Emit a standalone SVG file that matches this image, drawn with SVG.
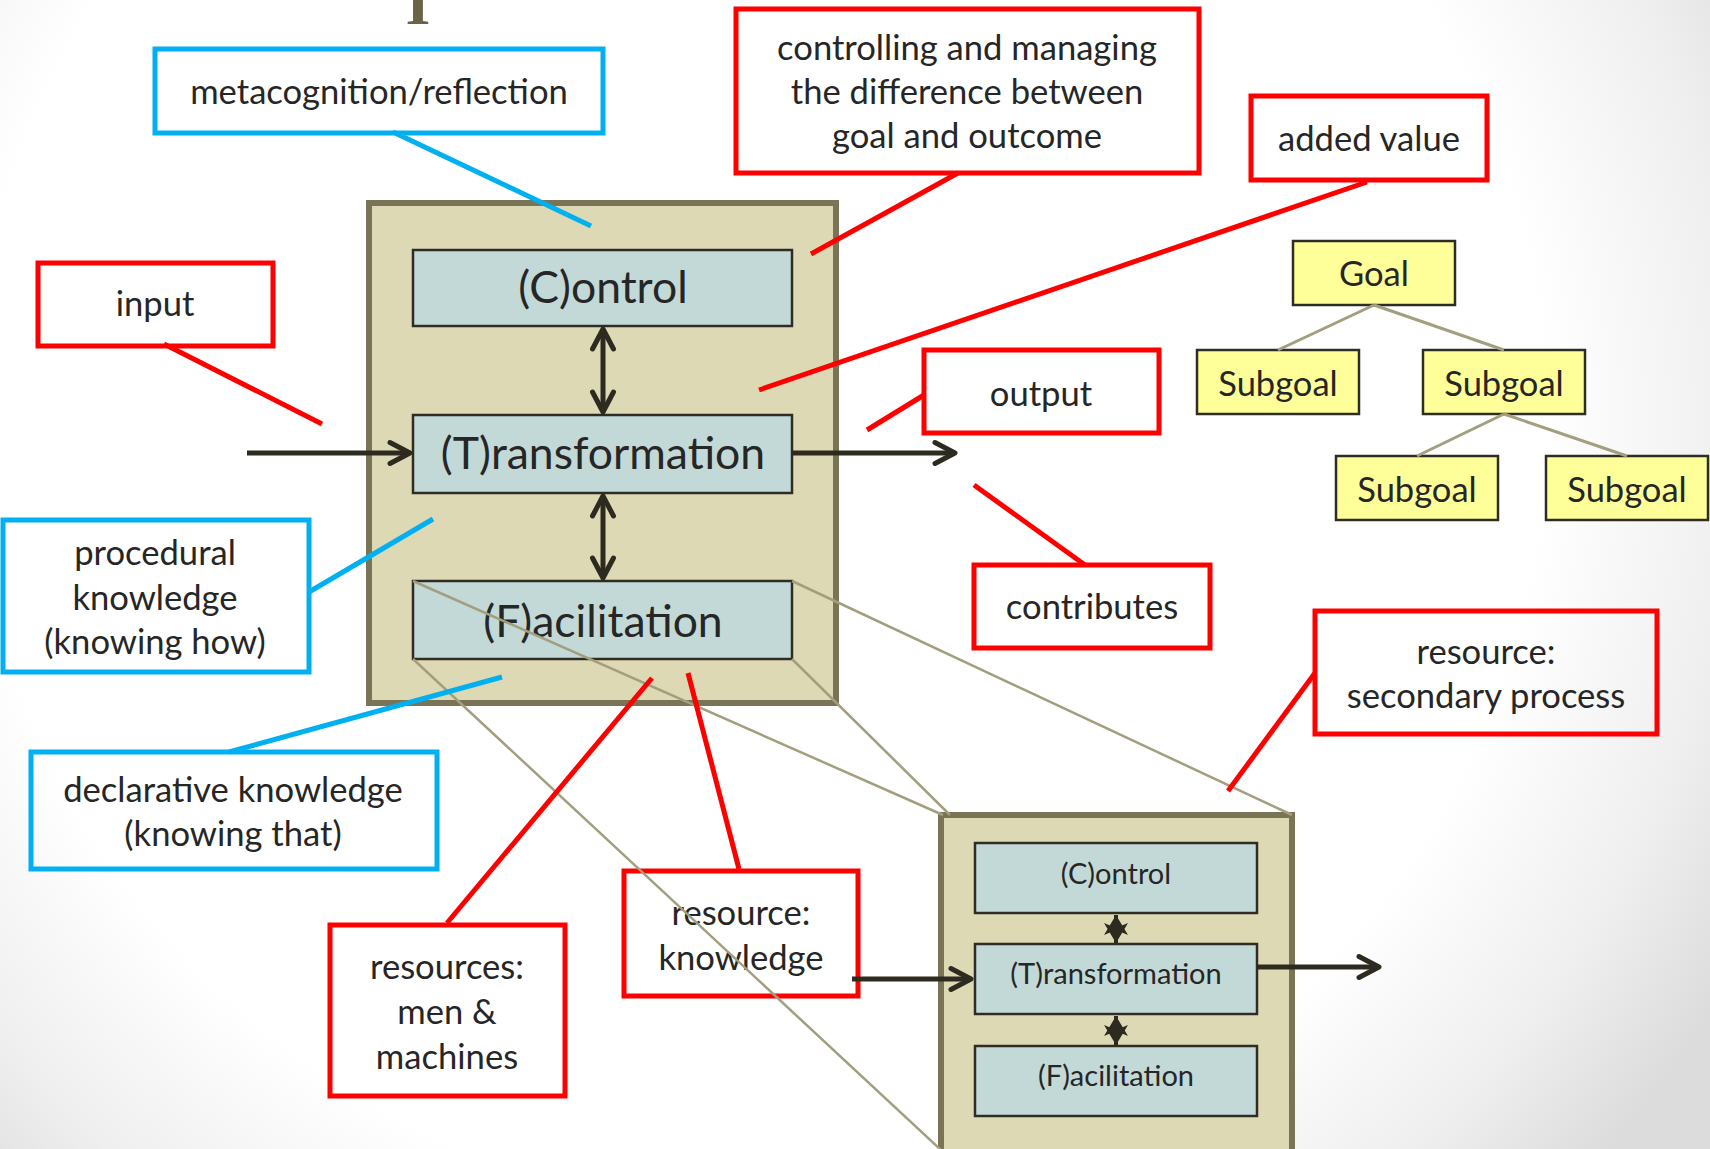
<svg xmlns="http://www.w3.org/2000/svg" width="1710" height="1149" viewBox="0 0 1710 1149">
<defs>
<radialGradient id="bg" gradientUnits="userSpaceOnUse" cx="760" cy="420" r="1120">
<stop offset="0" stop-color="#ffffff"/>
<stop offset="0.7" stop-color="#ffffff"/>
<stop offset="0.87" stop-color="#efefef"/>
<stop offset="1" stop-color="#dcdcdc"/>
</radialGradient>
<marker id="chev" markerUnits="userSpaceOnUse" viewBox="-26 -16 30 32" markerWidth="30" markerHeight="32" refX="0" refY="0" orient="auto-start-reverse">
<path d="M-20,-10.5 L0,0 L-20,10.5" fill="none" stroke="#2d2a20" stroke-width="5" stroke-linecap="round" stroke-linejoin="round"/>
</marker>
<marker id="tri" markerUnits="userSpaceOnUse" viewBox="-22 -14 24 28" markerWidth="24" markerHeight="28" refX="0" refY="0" orient="auto-start-reverse">
<path d="M-20,-12 L0,0 L-20,12 L-15,0 Z" fill="#2d2a20"/>
</marker>
<style>
.t { font-family: Lato, "Open Sans", "Liberation Sans", sans-serif; fill: #262626; text-anchor: middle; }
.lbl { font-size: 34.6px; }
.big { font-size: 44.5px; }
.sm { font-size: 29px; }
.gl { font-size: 34.5px; }
.red { fill: none; stroke: #ff0000; stroke-width: 5; }
.blue { fill: none; stroke: #00b0f0; stroke-width: 5; }
.outer { fill: #ded9b5; stroke: #7a7456; stroke-width: 6; }
.inner { fill: #c3d9d7; stroke: #2f2c24; stroke-width: 2.5; }
.goal { fill: #ffff99; stroke: #2f2c24; stroke-width: 2.5; }
.zl { stroke: #a29e7e; stroke-width: 2.5; fill: none; }
.tree { stroke: #a29e7e; stroke-width: 3; fill: none; }
.cr { stroke: #ff0000; stroke-width: 5; fill: none; }
.cb { stroke: #00b0f0; stroke-width: 5; fill: none; }
.ar { stroke: #2d2a20; stroke-width: 5; fill: none; marker-end: url(#chev); }
.ar2 { stroke: #2d2a20; stroke-width: 5; fill: none; marker-end: url(#chev); marker-start: url(#chev); }
.ars { stroke: #2d2a20; stroke-width: 4; fill: none; marker-end: url(#tri); marker-start: url(#tri); }
</style>
</defs>
<rect x="0" y="0" width="1710" height="1149" fill="url(#bg)"/>
<text x="418" y="24" font-family="Liberation Serif, serif" font-weight="bold" font-size="64" fill="#6b6347" text-anchor="middle">I</text>

<g id="main-process">
<rect class="outer" x="369" y="203" width="467" height="500"/>
<g id="control"><rect class="inner" x="413" y="250" width="379" height="76"/><text class="t big" x="603" y="303">(C)ontrol</text></g>
<g id="transformation"><rect class="inner" x="413" y="415" width="379" height="78"/><text class="t big" x="603" y="469">(T)ransformation</text></g>
<g id="facilitation"><rect class="inner" x="413" y="581" width="379" height="78"/><text class="t big" x="603" y="637">(F)acilitation</text></g>
</g>

<g id="secondary-process">
<rect class="outer" x="941" y="815" width="351" height="350"/>
<g id="s-control"><rect class="inner" x="975" y="843" width="282" height="70"/><text class="t sm" x="1116" y="884">(C)ontrol</text></g>
<g id="s-transformation"><rect class="inner" x="975" y="944" width="282" height="70"/><text class="t sm" x="1116" y="984">(T)ransformation</text></g>
<g id="s-facilitation"><rect class="inner" x="975" y="1046" width="282" height="70"/><text class="t sm" x="1116" y="1086">(F)acilitation</text></g>
</g>

<g id="goal"><rect class="goal" x="1293" y="241" width="162" height="64"/><text class="t gl" x="1374" y="286">Goal</text></g>
<g id="subgoal1"><rect class="goal" x="1197" y="350" width="162" height="64"/><text class="t gl" x="1278" y="396">Subgoal</text></g>
<g id="subgoal2"><rect class="goal" x="1423" y="350" width="162" height="64"/><text class="t gl" x="1504" y="396">Subgoal</text></g>
<g id="subgoal3"><rect class="goal" x="1336" y="456" width="162" height="64"/><text class="t gl" x="1417" y="502">Subgoal</text></g>
<g id="subgoal4"><rect class="goal" x="1546" y="456" width="162" height="64"/><text class="t gl" x="1627" y="502">Subgoal</text></g>

<g id="metacognition"><rect class="blue" x="155" y="49" width="448" height="84"/><text class="t lbl" x="379" y="104">metacognition/reflection</text></g>
<g id="controlling"><rect class="red" x="736" y="9" width="463" height="164"/><text class="t lbl" x="967" y="60">controlling and managing</text><text class="t lbl" x="967" y="104">the difference between</text><text class="t lbl" x="967" y="148">goal and outcome</text></g>
<g id="added-value"><rect class="red" x="1251" y="96" width="236" height="84"/><text class="t lbl" x="1369" y="151">added value</text></g>
<g id="input"><rect class="red" x="38" y="263" width="235" height="83"/><text class="t lbl" x="155" y="316">input</text></g>
<g id="output"><rect class="red" x="924" y="350" width="235" height="83"/><text class="t lbl" x="1041" y="406">output</text></g>
<g id="contributes"><rect class="red" x="974" y="565" width="236" height="83"/><text class="t lbl" x="1092" y="619">contributes</text></g>
<g id="procedural"><rect class="blue" x="3" y="520" width="306" height="152"/><text class="t lbl" x="155" y="565">procedural</text><text class="t lbl" x="155" y="610">knowledge</text><text class="t lbl" x="155" y="654">(knowing how)</text></g>
<g id="declarative"><rect class="blue" x="31" y="752" width="406" height="117"/><text class="t lbl" x="233" y="802">declarative knowledge</text><text class="t lbl" x="233" y="846">(knowing that)</text></g>
<g id="men-machines"><rect class="red" x="330" y="925" width="235" height="171"/><text class="t lbl" x="447" y="979">resources:</text><text class="t lbl" x="447" y="1024">men &amp;</text><text class="t lbl" x="447" y="1069">machines</text></g>
<g id="res-knowledge"><rect class="red" x="624" y="871" width="234" height="125"/><text class="t lbl" x="741" y="925">resource:</text><text class="t lbl" x="741" y="970">knowledge</text></g>
<g id="res-secondary"><rect class="red" x="1315" y="611" width="342" height="123"/><text class="t lbl" x="1486" y="664">resource:</text><text class="t lbl" x="1486" y="708">secondary process</text></g>

<g id="connectors">
<line class="tree" x1="1374" y1="305" x2="1278" y2="350"/>
<line class="tree" x1="1374" y1="305" x2="1504" y2="350"/>
<line class="tree" x1="1504" y1="414" x2="1417" y2="456"/>
<line class="tree" x1="1504" y1="414" x2="1627" y2="456"/>
<line class="zl" x1="413" y1="581" x2="943" y2="815"/>
<line class="zl" x1="792" y1="581" x2="1292" y2="815"/>
<line class="zl" x1="792" y1="659" x2="950" y2="815"/>
<line class="zl" x1="413" y1="659" x2="941" y2="1150"/>
<line class="cb" x1="393" y1="132" x2="591" y2="226"/>
<line class="cr" x1="958" y1="173" x2="811" y2="254"/>
<line class="cr" x1="1367" y1="182" x2="759" y2="390"/>
<line class="cr" x1="164" y1="344" x2="322" y2="424"/>
<line class="cr" x1="924" y1="395" x2="867" y2="430"/>
<line class="cr" x1="1085" y1="565" x2="974" y2="485"/>
<line class="cb" x1="309" y1="592" x2="433" y2="519"/>
<line class="cb" x1="229" y1="752" x2="502" y2="677"/>
<line class="cr" x1="447" y1="923" x2="652" y2="678"/>
<line class="cr" x1="739" y1="869" x2="688" y2="673"/>
<line class="cr" x1="1315" y1="673" x2="1228" y2="791"/>
<line class="ar" x1="247" y1="453" x2="410" y2="453"/>
<line class="ar" x1="792" y1="453" x2="955" y2="453"/>
<line class="ar2" x1="603" y1="329" x2="603" y2="412"/>
<line class="ar2" x1="603" y1="496" x2="603" y2="578"/>
<line class="ar" x1="852" y1="979" x2="971" y2="979"/>
<line class="ar" x1="1257" y1="967" x2="1379" y2="967"/>
<line class="ars" x1="1116" y1="915" x2="1116" y2="943"/>
<line class="ars" x1="1116" y1="1016" x2="1116" y2="1045"/>
</g>
</svg>
